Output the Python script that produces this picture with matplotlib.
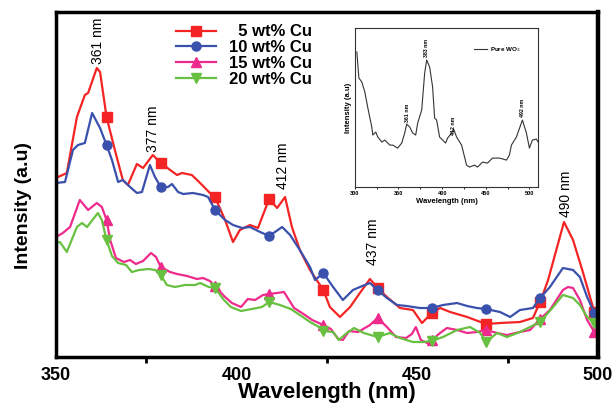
import numpy as np
import matplotlib
matplotlib.use("Agg")
import matplotlib.pyplot as plt
from matplotlib.ticker import MultipleLocator

plt.rcParams["font.family"] = ["Liberation Sans", "DejaVu Sans"]

# ---- data (intensity in arbitrary units) ----
wl_5 = [350, 353.0, 355.8, 358.0, 358.9, 361.3, 362.2, 364, 366.3, 368.5, 369.9, 372.4, 374.1, 376.8, 379,
        381.6, 383.5, 384.9, 387.6, 389.9, 392.6, 394, 396.8, 399.0, 400.9, 403.7, 405.9, 409, 411.2, 413.4,
        415.3, 417.5, 420.3, 424, 425.8, 428.6, 431.4, 434.1, 436.9, 439, 441.6, 445.2, 448.8, 451.3, 454,
        456.3, 459.1, 463.8, 469, 472.9, 478.4, 482.0, 484, 486.2, 488.7, 490.6, 493.1, 495.9, 497.8, 499, 500]
int_5 = [179, 184, 240, 262, 264, 289, 285, 240, 207, 177, 172, 193, 189, 202, 194,
         187, 182, 184, 182, 174, 164, 160, 137, 115, 127, 132, 129, 158, 149, 160,
         130, 107, 87, 67, 50, 40, 50, 64, 78, 69, 60, 49, 47, 34, 44,
         49, 45, 40, 33, 34, 35, 39, 55, 77, 110, 135, 117, 84, 60, 45, 43]

wl_10 = [350, 352.5, 354.7, 356.1, 358.0, 360.0, 362.2, 364, 365.5, 367.2, 368.5, 370.5, 372.4, 373.8, 376.0,
         377.4, 379, 381.0, 382.1, 383.8, 385.2, 387.9, 390.7, 392.1, 394, 396.8, 399.0, 401.5, 403.7, 406.5,
         409, 410.6, 412.6, 414.8, 417.5, 420.3, 421.7, 424, 426.7, 429.4, 432.2, 434.1, 436.9, 439, 441.6,
         444.4, 447.1, 450.7, 454, 457.1, 461.0, 463.8, 466.5, 469, 472.9, 475.7, 478.4, 482.0, 484, 486.7,
         490.3, 493.1, 495.0, 497.0, 499, 500]
int_10 = [174, 175, 207, 212, 214, 244, 229, 212, 197, 175, 177, 170, 164, 165, 192,
          180, 170, 170, 173, 165, 163, 164, 162, 160, 147, 137, 132, 129, 130, 125,
          121, 125, 130, 122, 107, 90, 77, 84, 70, 57, 67, 70, 74, 67, 59,
          52, 51, 49, 49, 52, 54, 51, 49, 48, 45, 40, 47, 49, 59, 70,
          89, 87, 80, 60, 44, 42]

wl_15 = [350, 351.9, 353.9, 356.6, 358.9, 361.3, 362.7, 364, 365.0, 366.6, 368.8, 370.5, 372.1, 374.1, 376.3,
         377.7, 379, 381.6, 383.5, 386.3, 389.0, 390.7, 392.6, 394, 396.5, 398.7, 401.2, 403.1, 405.1, 407.3,
         409, 411.2, 413.1, 415.9, 418.1, 420.9, 424, 426.1, 428.1, 429.4, 431.1, 433.6, 436.9, 439, 441.6,
         444.1, 446.9, 448.5, 449.6, 451.0, 452.7, 454, 456.3, 458.2, 461.0, 463.8, 466.5, 469, 472.1, 474.8,
         478.4, 481.2, 484, 486.7, 490.3, 491.7, 493.1, 495.0, 497.0, 499, 500]
int_15 = [120, 124, 130, 157, 147, 154, 150, 137, 117, 99, 95, 97, 93, 96, 104,
          100, 90, 85, 83, 81, 78, 79, 76, 71, 61, 54, 50, 58, 57, 62,
          63, 64, 65, 49, 44, 37, 32, 28, 18, 17, 26, 25, 32, 39, 30,
          20, 19, 23, 30, 17, 14, 17, 24, 29, 27, 24, 25, 27, 24, 22,
          25, 27, 38, 47, 67, 70, 69, 57, 37, 25, 24]

wl_20 = [350, 351.1, 353.0, 355.8, 357.2, 358.6, 361.6, 362.7, 364, 365.5, 367.2, 369.4, 371.0, 373.0, 375.7,
         377.5, 379, 380.7, 382.9, 385.7, 388.5, 389.9, 392.3, 394, 396.5, 398.4, 401.2, 404.2, 407.0, 409,
         412.0, 415.0, 417.5, 420.3, 422.8, 424, 426.7, 428.3, 430.5, 432.5, 435.2, 439, 442.4, 445.2, 448.8,
         451.6, 454, 457.1, 461.0, 464.6, 467.4, 469, 472.1, 474.8, 478.4, 481.2, 484, 487.6, 490.3, 493.1,
         495.0, 497.0, 499, 500]
int_20 = [114, 115, 105, 130, 134, 130, 144, 137, 117, 101, 94, 92, 85, 87, 88,
          87, 82, 72, 70, 72, 72, 74, 70, 69, 57, 50, 46, 48, 50, 55,
          52, 48, 42, 35, 30, 26, 25, 17, 24, 29, 24, 20, 24, 19, 15,
          15, 16, 20, 27, 30, 24, 15, 24, 20, 25, 30, 35, 50, 62, 59,
          52, 40, 34, 33]

marker_wl = [364, 379, 394, 409, 424, 439, 454, 469, 484, 499]

labels = ["  5 wt% Cu", "10 wt% Cu", "15 wt% Cu", "20 wt% Cu"]
colors = ["#f42424", "#3a50ad", "#ee2a8c", "#68c040"]
markers = ["s", "o", "^", "v"]

peaks = [361, 377, 412, 437, 490]
peak_x = [361.5, 376.8, 412.8, 437.7, 491.2]
peak_y = [293, 205, 168, 92, 140]

# inset: pure WO3
wl_wo3 = [302.3, 304.6, 308.0, 311.4, 314.9, 319.4, 320.6, 324.0, 326.3, 330.9, 334.3, 340.0, 343.4, 349.1,
          353.7, 357.1, 359.4, 362.9, 366.3, 369.7, 372.0, 376.6, 380.0, 382.3, 385.7, 389.1, 391.4, 393.7,
          397.1, 400.6, 404.0, 406.3, 410.9, 413.1, 416.6, 422.3, 428.0, 431.4, 437.1, 440.6, 446.3, 452.0,
          457.7, 465.7, 473.7, 477.1, 479.4, 485.1, 492.0, 496.6, 500.0, 503.4, 508.0, 510]
int_wo3 = [135, 109, 105, 95, 79, 60, 52, 55, 50, 45, 47, 42, 42, 39,
           44, 54, 63, 60, 54, 52, 64, 77, 114, 127, 120, 100, 69, 67,
           50, 47, 44, 49, 54, 58, 50, 42, 22, 20, 22, 20, 25, 24,
           29, 29, 27, 32, 42, 50, 67, 54, 39, 47, 48, 45]
wo3_peaks = [361, 383, 412, 492]
wo3_peak_x = [360.6, 382.3, 413.1, 492.0]
wo3_peak_y = [65, 130, 52, 70]

fig = plt.figure(figsize=(6.15, 4.05), dpi=100)
ax = fig.add_axes([0.091, 0.1185, 0.8813, 0.8519])

series = [(wl_5, int_5), (wl_10, int_10), (wl_15, int_15), (wl_20, int_20)]
for (wl, inten), lab, col, mk in zip(series, labels, colors, markers):
    wl = np.array(wl)
    idx = [int(np.argmin(np.abs(wl - m))) for m in marker_wl]
    ax.plot(wl, inten, color=col, lw=1.6, marker=mk, ms=6.5, markevery=idx, label=lab)

for p, x, y in zip(peaks, peak_x, peak_y):
    ax.text(x, y, f"{p} nm", rotation=90, ha="center", va="bottom", fontsize=10)

ax.set_xlim(350, 500)
ax.set_ylim(0, 345)
ax.set_yticks([])
ax.xaxis.set_major_locator(MultipleLocator(50))
ax.xaxis.set_minor_locator(MultipleLocator(25))
ax.tick_params(axis="x", which="major", length=0, pad=7, labelsize=13)
ax.tick_params(axis="x", which="minor", length=4, width=2, direction="out")
for t in ax.get_xticklabels():
    t.set_fontweight("bold")
for s in ax.spines.values():
    s.set_linewidth(2.5)
ax.spines["right"].set_linewidth(3.2)

ax.set_xlabel("Wavelength (nm)", fontsize=16, fontweight="bold", labelpad=-1)
ax.set_ylabel("Intensity (a.u)", fontsize=14, fontweight="bold")
ax.yaxis.set_label_coords(-0.045, 0.44)

leg = ax.legend(loc="upper right", bbox_to_anchor=(0.488, 0.988), frameon=False,
                prop={"weight": "bold", "size": 12}, handlelength=2.4,
                handletextpad=0.8, labelspacing=0.05, borderpad=0)

# inset
ins = fig.add_axes([0.577, 0.538, 0.298, 0.393])
ins.plot(wl_wo3, int_wo3, color="#333333", lw=0.8, label="Pure WO$_3$")
for p, x, y in zip(wo3_peaks, wo3_peak_x, wo3_peak_y):
    ins.text(x, y, f"{p} nm", rotation=90, ha="center", va="bottom", fontsize=3.8, fontweight="bold")
ins.set_xlim(300, 510)
ins.set_ylim(0, 159)
ins.set_yticks([])
ins.set_xticks([300, 350, 400, 450, 500])
ins.xaxis.set_minor_locator(MultipleLocator(25))
ins.tick_params(axis="x", which="both", length=1.5, width=0.6, pad=1.5, labelsize=4)
for t in ins.get_xticklabels():
    t.set_fontweight("bold")
for s in ins.spines.values():
    s.set_linewidth(0.8)
    s.set_color("#333333")
ins.set_xlabel("Wavelength (nm)", fontsize=5.5, fontweight="bold", labelpad=1)
ins.set_ylabel("Intensity (a.u)", fontsize=5.5, fontweight="bold", labelpad=2)
ins.legend(loc="upper right", frameon=False, prop={"weight": "bold", "size": 4.5},
           handlelength=2.2, handletextpad=0.4, borderaxespad=2.4)

fig.savefig("out.png", dpi=100)
